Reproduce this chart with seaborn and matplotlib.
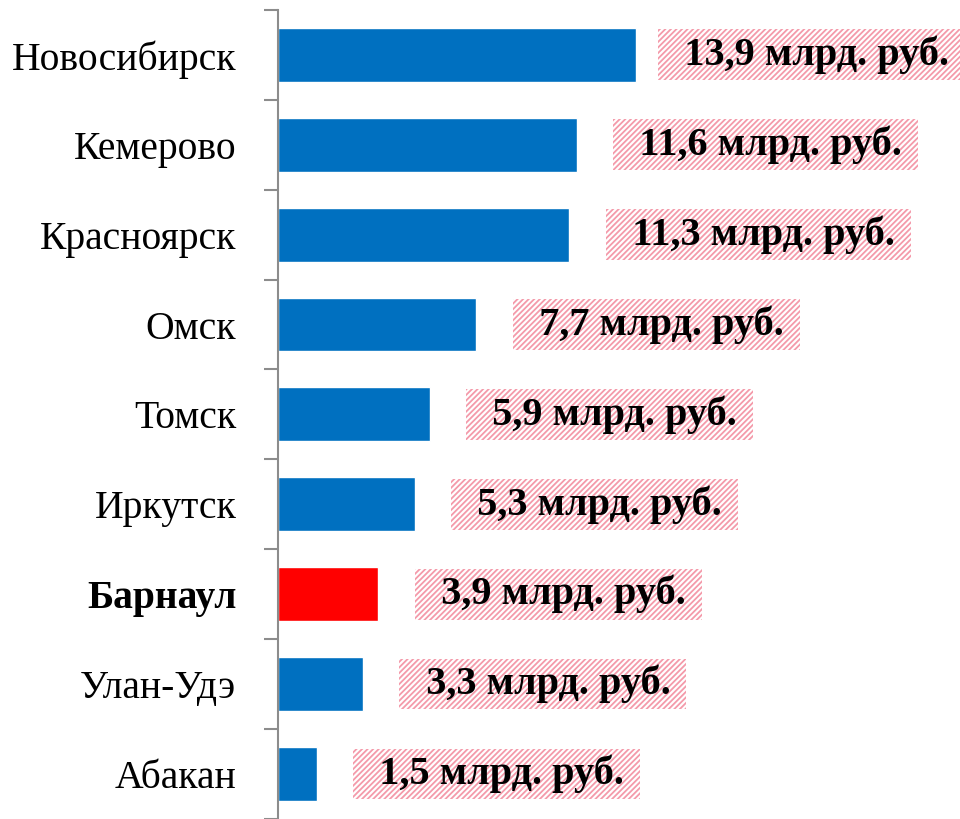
import numpy as np
import pandas as pd
import matplotlib.pyplot as plt
import seaborn as sns

# данные
cities = ["Новосибирск", "Кемерово", "Красноярск", "Омск", "Томск",
          "Иркутск", "Барнаул", "Улан-Удэ", "Абакан"]
values = [13.9, 11.6, 11.3, 7.7, 5.9, 5.3, 3.9, 3.3, 1.5]
labels = ["13,9 млрд. руб.", "11,6 млрд. руб.", "11,3 млрд. руб.", "7,7 млрд. руб.",
          "5,9 млрд. руб.", "5,3 млрд. руб.", "3,9 млрд. руб.", "3,3 млрд. руб.",
          "1,5 млрд. руб."]
highlight = "Барнаул"

sns.set_style("white")
plt.rcParams['font.family'] = ['Liberation Serif', 'DejaVu Serif']
plt.rcParams['text.color'] = 'black'
plt.rcParams['ytick.color'] = 'black'
plt.rcParams['hatch.linewidth'] = 1.3

df = pd.DataFrame({"city": cities, "value": values})
colors = ["#ff0000" if c == highlight else "#0070c0" for c in cities]

fig = plt.figure(figsize=(9.6, 8.19), dpi=100)
ax = fig.add_axes([0.2896, 0.0, 0.7104, 0.988])

sns.barplot(data=df, x="value", y="city", hue="city", palette=colors,
            width=0.6, legend=False, ax=ax, saturation=1)

xmax = 682 / 25.76
ax.set_xlim(0, xmax)
ax.set_ylim(len(cities) - 0.5, -0.5)

# подписи значений в заштрихованных рамках (пробелы дают отступ внутри рамки)
for i, (v, lab) in enumerate(zip(values, labels)):
    x = min(v + 1.65, xmax - 11.5)
    ax.text(x, i, "  " + lab + " ", fontsize=29, fontweight='bold',
            va='center', ha='left', color='black', clip_on=False,
            bbox=dict(boxstyle='square,pad=0.15', facecolor='white',
                      edgecolor='#f49aaa', hatch='//////', linewidth=0))

# оси
for s in ["top", "right", "bottom"]:
    ax.spines[s].set_visible(False)
ax.spines["left"].set_color("#8c8c8c")
ax.spines["left"].set_linewidth(1.5)
ax.set_xticks([])
ax.set_xlabel("")
ax.set_ylabel("")
ax.set_yticks(np.arange(-0.5, len(cities), 1), minor=True)
ax.tick_params(axis='y', which='both', left=True)
ax.tick_params(axis='y', which='minor', length=10, width=1.5, color="#8c8c8c")
ax.tick_params(axis='y', which='major', length=0, pad=30, labelsize=28.5,
               labelcolor='black')
for t in ax.get_yticklabels():
    if t.get_text() == highlight:
        t.set_fontweight('bold')

plt.savefig("out.png", dpi=100)
